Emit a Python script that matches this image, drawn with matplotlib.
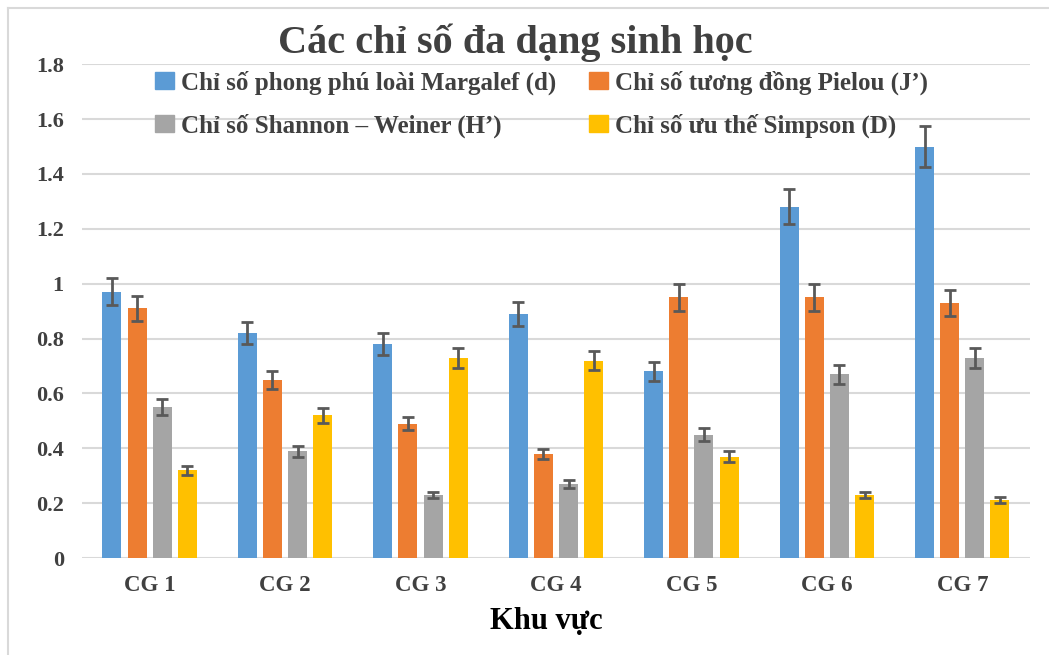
import matplotlib.pyplot as plt
import numpy as np
from matplotlib.lines import Line2D

plt.rcParams["font.family"] = ["Liberation Serif", "DejaVu Serif"]
plt.rcParams["font.weight"] = "bold"

categories = ["CG 1", "CG 2", "CG 3", "CG 4", "CG 5", "CG 6", "CG 7"]
series_names = [
    "Chỉ số phong phú loài Margalef (d)",
    "Chỉ số tương đồng Pielou (J’)",
    "Chỉ số Shannon – Weiner (H’)",
    "Chỉ số ưu thế Simpson (D)",
]
margalef = [0.97, 0.82, 0.78, 0.89, 0.68, 1.28, 1.50]
pielou = [0.91, 0.65, 0.49, 0.38, 0.95, 0.95, 0.93]
shannon = [0.55, 0.39, 0.23, 0.27, 0.45, 0.67, 0.73]
simpson = [0.32, 0.52, 0.73, 0.72, 0.37, 0.23, 0.21]

margalef_err = [0.049, 0.041, 0.039, 0.045, 0.034, 0.064, 0.075]
pielou_err = [0.046, 0.033, 0.025, 0.019, 0.048, 0.048, 0.047]
shannon_err = [0.028, 0.020, 0.012, 0.014, 0.023, 0.034, 0.037]
simpson_err = [0.016, 0.026, 0.037, 0.036, 0.019, 0.012, 0.011]

colors = ["#5B9BD5", "#ED7D31", "#A5A5A5", "#FFC000"]
text_color = "#404040"

fig = plt.figure(figsize=(10.49, 6.55), dpi=100)
ax = fig.add_axes([0.078, 0.148, 0.904, 0.754])

x = np.arange(len(categories))
step = 0.185
width = 0.14
values = [margalef, pielou, shannon, simpson]
errors = [margalef_err, pielou_err, shannon_err, simpson_err]
for i, (vals, errs) in enumerate(zip(values, errors)):
    ax.bar(x + (i - 1.5) * step, vals, width, color=colors[i], zorder=3,
           yerr=errs, error_kw=dict(ecolor="#595959", elinewidth=2,
                                    capsize=4, capthick=2, zorder=4))

ax.set_xlim(-0.5, len(categories) - 0.5)
ax.set_ylim(0, 1.8)
ax.set_yticks(np.arange(0, 1.81, 0.2))
ax.set_yticklabels(["0", "0.2", "0.4", "0.6", "0.8", "1", "1.2", "1.4", "1.6", "1.8"])
ax.set_xticks(x)
ax.set_xticklabels(categories)
ax.tick_params(axis="both", length=0, labelcolor=text_color)
ax.tick_params(axis="x", pad=12, labelsize=16.5)
ax.tick_params(axis="y", pad=13, labelsize=16)
ax.grid(axis="y", color="#D9D9D9", linewidth=1.5, zorder=0)
ax.set_axisbelow(True)
for s in ax.spines.values():
    s.set_visible(False)

ax.set_xlabel("Khu vực", fontsize=22, fontweight="bold", color="black")
ax.xaxis.set_label_coords(0.49, -0.1)
fig.text(0.491, 0.935, "Các chỉ số đa dạng sinh học", ha="center", va="center",
         fontsize=29, color=text_color)

# legend fills column-wise, so order the entries to read row by row
order = [0, 2, 1, 3]
handles = [plt.Rectangle((0, 0), 1, 1, color=colors[k]) for k in order]
labels = [series_names[k] for k in order]
leg = ax.legend(handles, labels, ncol=2, loc="upper center",
                bbox_to_anchor=(0.485, 1.033), frameon=False, fontsize=18,
                handlelength=0.75, handleheight=0.65, handletextpad=0.3,
                columnspacing=1.3, labelspacing=0.75)
for t in leg.get_texts():
    t.set_color(text_color)

# chart border (top and left only visible)
fig.add_artist(Line2D([0.008, 1.0], [0.988, 0.988], color="#D9D9D9", lw=1.5))
fig.add_artist(Line2D([0.008, 0.008], [0.0, 0.988], color="#D9D9D9", lw=1.5))

fig.savefig("out.png", dpi=100)
